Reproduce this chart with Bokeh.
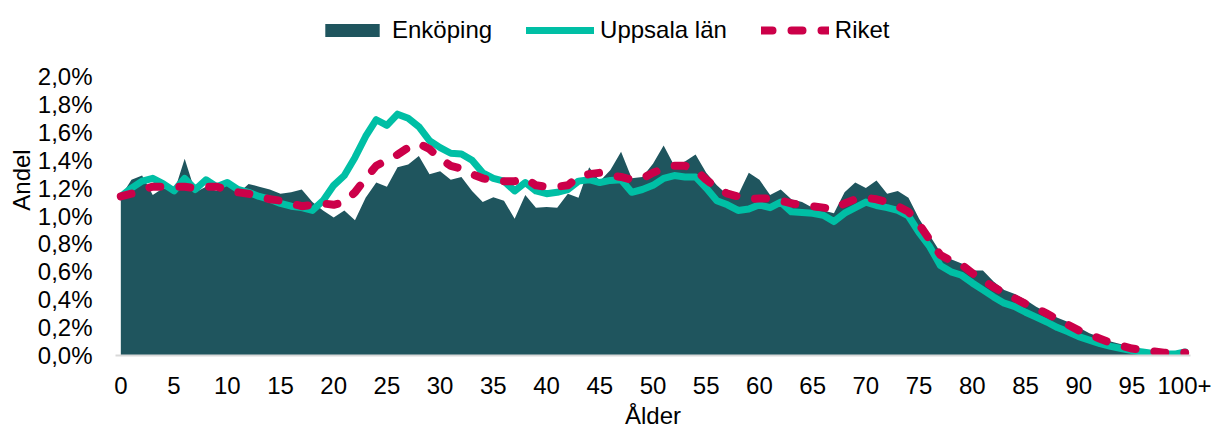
from bokeh.plotting import figure
from bokeh.models import Range1d, FixedTicker, Legend, LegendItem, ColumnDataSource
from bokeh.embed import file_html
from bokeh.resources import INLINE

ages = list(range(0, 101))

enkoping = [1.14, 1.26, 1.29, 1.15, 1.20, 1.17, 1.41, 1.17, 1.21, 1.18,
            1.24, 1.16, 1.23, 1.21, 1.19, 1.16, 1.17, 1.19, 1.10, 1.04,
            0.99, 1.04, 0.97, 1.13, 1.24, 1.21, 1.35, 1.37, 1.43, 1.30,
            1.32, 1.26, 1.28, 1.18, 1.10, 1.135, 1.11, 0.98, 1.15, 1.06,
            1.065, 1.06, 1.16, 1.13, 1.35, 1.25, 1.33, 1.46, 1.27, 1.28,
            1.375, 1.505, 1.36, 1.39, 1.44, 1.31, 1.22, 1.15, 1.15, 1.31,
            1.26, 1.15, 1.19, 1.12, 1.10, 1.06, 1.04, 1.02, 1.17, 1.24,
            1.20, 1.255, 1.16, 1.18, 1.13, 0.98, 0.86, 0.74, 0.69, 0.66,
            0.61, 0.61, 0.53, 0.47, 0.44, 0.40, 0.35, 0.31, 0.27, 0.24,
            0.20, 0.16, 0.13, 0.10, 0.08, 0.06, 0.045, 0.03, 0.02, 0.015,
            0.02]

uppsala = [1.14, 1.20, 1.25, 1.27, 1.23, 1.18, 1.27, 1.19, 1.26, 1.21,
           1.24, 1.19, 1.17, 1.14, 1.12, 1.09, 1.07, 1.06, 1.04, 1.11,
           1.22, 1.29, 1.42, 1.57, 1.69, 1.65, 1.73, 1.70, 1.64, 1.54,
           1.49, 1.45, 1.445, 1.40, 1.31, 1.27, 1.25, 1.18, 1.24, 1.18,
           1.16, 1.17, 1.19, 1.25, 1.26, 1.24, 1.255, 1.26, 1.17, 1.19,
           1.22, 1.27, 1.29, 1.28, 1.28, 1.20, 1.11, 1.08, 1.04, 1.05,
           1.08, 1.06, 1.10, 1.03, 1.025, 1.02, 1.005, 0.96, 1.02, 1.06,
           1.10, 1.075, 1.06, 1.04, 1.00, 0.88, 0.78, 0.645, 0.60, 0.575,
           0.52, 0.47, 0.42, 0.375, 0.35, 0.31, 0.275, 0.24, 0.20, 0.17,
           0.135, 0.11, 0.085, 0.065, 0.05, 0.035, 0.025, 0.015, 0.01, 0.01,
           0.025]

riket = [1.14, 1.16, 1.19, 1.21, 1.21, 1.21, 1.21, 1.20, 1.21, 1.21,
         1.19, 1.17, 1.16, 1.14, 1.12, 1.11, 1.09, 1.07, 1.08, 1.09,
         1.08, 1.10, 1.17, 1.27, 1.36, 1.40, 1.44, 1.49, 1.52, 1.48,
         1.41, 1.36, 1.34, 1.30, 1.27, 1.255, 1.25, 1.25, 1.27, 1.22,
         1.21, 1.21, 1.22, 1.28, 1.30, 1.31, 1.29, 1.28, 1.26, 1.27,
         1.31, 1.34, 1.36, 1.36, 1.33, 1.26, 1.20, 1.16, 1.14, 1.12,
         1.125, 1.125, 1.11, 1.09, 1.08, 1.07, 1.06, 1.05, 1.09, 1.12,
         1.13, 1.12, 1.10, 1.07, 1.03, 0.94, 0.83, 0.72, 0.68, 0.65,
         0.59, 0.54, 0.49, 0.45, 0.41, 0.37, 0.34, 0.30, 0.26, 0.22,
         0.18, 0.15, 0.12, 0.09, 0.07, 0.05, 0.04, 0.03, 0.02, 0.015,
         0.02]

x_ticks = list(range(0, 101, 5))
x_tick_labels = [str(t) for t in x_ticks[:-1]] + ["100+"]
y_ticks = [0.0, 0.2, 0.4, 0.6, 0.8, 1.0, 1.2, 1.4, 1.6, 1.8, 2.0]
y_tick_labels = ["0,0%", "0,2%", "0,4%", "0,6%", "0,8%", "1,0%",
                 "1,2%", "1,4%", "1,6%", "1,8%", "2,0%"]

FONT = "Liberation Sans"
FS = "24px"
C_ENK = "#1f555e"
C_UPP = "#00bfa5"
C_RIK = "#cc0049"

# frame geometry (canvas px): left 115, right 1190, top 4, bottom 355
# the 2,0% tick sits at y=76; the frame extends above it to hold the legend
Y_TOP = 2.0 * (355 - 4) / (355 - 76)

src = ColumnDataSource(dict(age=ages, enk=enkoping, upp=uppsala, rik=riket))

p = figure(width=1211, height=432, output_backend="svg", toolbar_location=None,
           x_range=Range1d(-0.5, 100.5), y_range=Range1d(0, Y_TOP),
           min_border_left=115, min_border_right=21, min_border_top=4,
           min_border_bottom=77)
p.outline_line_color = None
p.grid.visible = False

r_enk = p.varea(x="age", y1=0, y2="enk", source=src, fill_color=C_ENK)
r_upp = p.line(x="age", y="upp", source=src, line_color=C_UPP, line_width=7,
               line_join="round", line_cap="round")
r_rik = p.line(x="age", y="rik", source=src, line_color=C_RIK, line_width=8,
               line_dash="11 19", line_join="round", line_cap="round")

xa = p.xaxis[0]
xa.ticker = FixedTicker(ticks=x_ticks)
xa.major_label_overrides = {t: l for t, l in zip(x_ticks, x_tick_labels)}
xa.axis_line_color = "#d9d9d9"
xa.axis_line_width = 2
xa.major_tick_line_color = None
xa.minor_tick_line_color = None
xa.major_label_standoff = 15
xa.axis_label = "Ålder"
xa.axis_label_standoff = 5
xa.axis_label_text_font_style = "normal"

ya = p.yaxis[0]
ya.ticker = FixedTicker(ticks=y_ticks)
ya.major_label_overrides = {t: l for t, l in zip(y_ticks, y_tick_labels)}
ya.axis_line_color = None
ya.major_tick_line_color = None
ya.minor_tick_line_color = None
ya.major_label_standoff = 17
ya.axis_label = "Andel"
ya.axis_label_standoff = 0
ya.axis_label_text_font_style = "normal"

for ax in (xa, ya):
    ax.major_label_text_font = FONT
    ax.major_label_text_font_size = FS
    ax.major_label_text_color = "#000000"
    ax.axis_label_text_font = FONT
    ax.axis_label_text_font_size = FS
    ax.axis_label_text_color = "#000000"

legend = Legend(items=[LegendItem(label="Enköping", renderers=[r_enk]),
                       LegendItem(label="Uppsala län", renderers=[r_upp]),
                       LegendItem(label="Riket", renderers=[r_rik])],
                orientation="horizontal", location=(203, 311),
                label_text_font=FONT, label_text_font_size=FS,
                label_text_color="#000000",
                glyph_width=68, glyph_height=16, label_standoff=6,
                spacing=34, padding=0, margin=0,
                background_fill_alpha=0, border_line_alpha=0)
p.add_layout(legend, "center")

open("out.html", "w").write(file_html(p, INLINE))
